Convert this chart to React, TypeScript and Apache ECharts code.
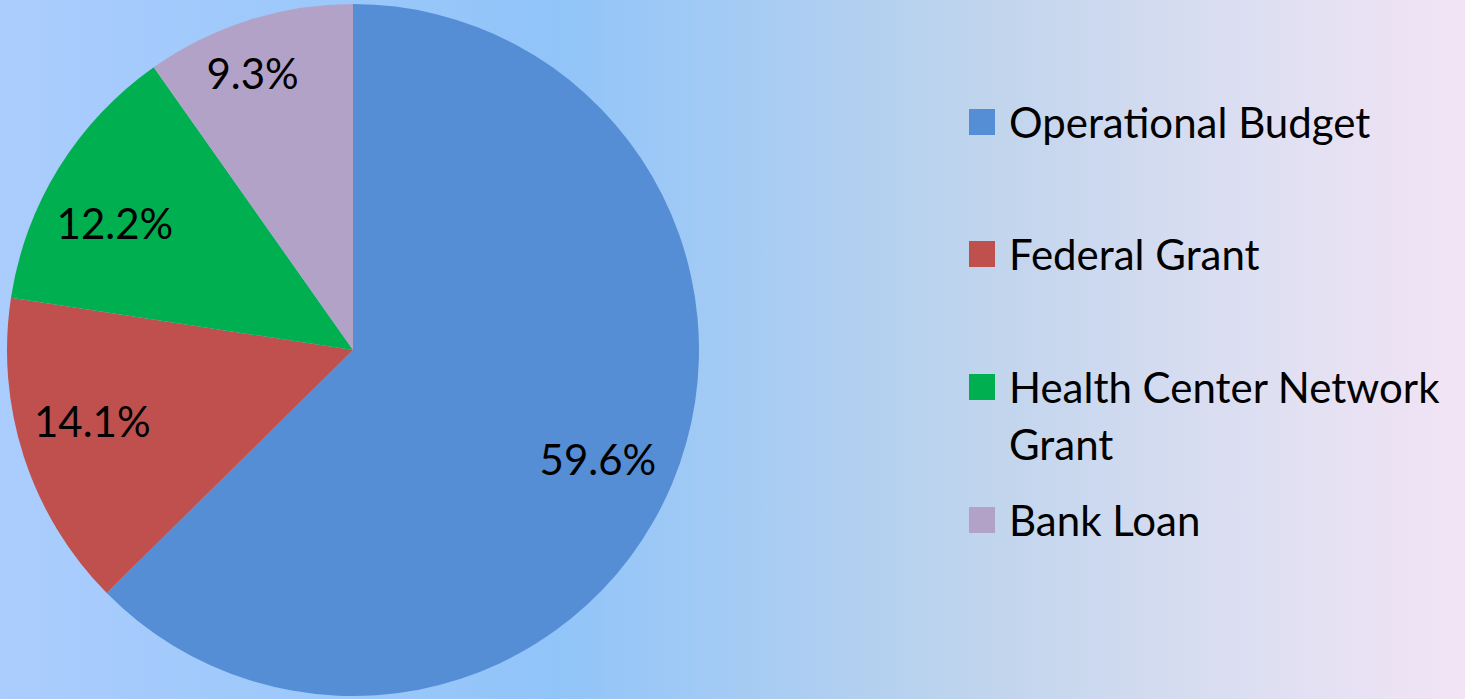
import React, { useEffect, useRef } from "react";
import * as echarts from "echarts";

const categories = ["Operational Budget", "Federal Grant", "Health Center Network Grant", "Bank Loan"];
const legendLines = [["Operational Budget"], ["Federal Grant"], ["Health Center Network", "Grant"], ["Bank Loan"]];
const values = [59.6, 14.1, 12.2, 9.3];
const colors = ["#558ed5", "#c0504d", "#00b050", "#b3a2c7"];

const FONT = "Lato";

export default function App() {
  const ref = useRef<HTMLDivElement>(null);
  useEffect(() => {
    document.body.style.margin = "0";
    const chart = echarts.init(ref.current!, undefined, { renderer: "svg" });
    const data = categories.map((name, i) => ({ name, value: values[i], itemStyle: { color: colors[i] } }));

    const graphics: any[] = [];
    const tops = [109, 241, 374, 507];
    legendLines.forEach((lines, i) => {
      graphics.push({
        type: "rect",
        shape: { x: 969, y: tops[i], width: 26, height: 26 },
        style: { fill: colors[i] },
      });
      lines.forEach((ln, j) => {
        graphics.push({
          type: "text",
          x: 1009,
          y: tops[i] + 13 + j * 57,
          style: {
            text: ln,
            fill: "#000",
            font: `42px ${FONT}`,
            verticalAlign: "middle",
            align: "left",
          },
        });
      });
    });

    const labelShift = [
      [-7, 4],
      [-1, -13],
      [-6, 17],
      [-18, -17],
    ];

    chart.setOption({
      animation: false,
      backgroundColor: {
        type: "linear",
        x: 0,
        y: 0,
        x2: 1,
        y2: 0,
        colorStops: [
          { offset: 0, color: "#abcdfd" },
          { offset: 0.38, color: "#91c4f9" },
          { offset: 0.66, color: "#bed4ed" },
          { offset: 0.88, color: "#e1e0f2" },
          { offset: 1, color: "#f2e4f5" },
        ],
      },
      series: [
        {
          type: "pie",
          center: [353, 350],
          radius: [0, 346],
          startAngle: 90,
          clockwise: true,
          label: { show: false },
          labelLine: { show: false },
          silent: true,
          data,
        },
        {
          type: "pie",
          center: [353, 350],
          radius: [194, 346],
          startAngle: 90,
          clockwise: true,
          silent: true,
          itemStyle: { color: "rgba(0,0,0,0)" },
          label: {
            show: true,
            position: "inside",
            formatter: "{c}%",
            color: "#000",
            fontFamily: FONT,
            fontSize: 42,
          },
          labelLayout: (p: any) => ({ dx: labelShift[p.dataIndex][0], dy: labelShift[p.dataIndex][1] }),
          labelLine: { show: false },
          data: categories.map((name, i) => ({ name, value: values[i] })),
        },
      ],
      graphic: graphics,
    });
    return () => chart.dispose();
  }, []);
  return <div ref={ref} style={{ position: "absolute", left: 0, top: 0, width: 1465, height: 699 }} />;
}
